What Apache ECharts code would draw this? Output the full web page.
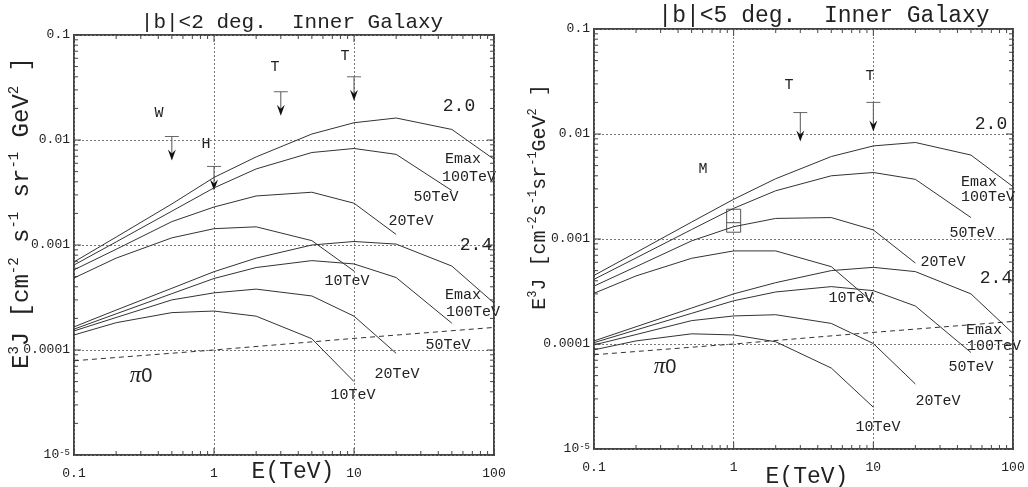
<!DOCTYPE html>
<html>
<head>
<meta charset="utf-8">
<script src="https://cdn.jsdelivr.net/npm/echarts@6/dist/echarts.min.js"></script>
<style>
  html, body { margin: 0; padding: 0; background: #fff; }
  #chart { width: 1028px; height: 487px; }
</style>
</head>
<body>
<div id="chart"></div>
<script>
// energies (TeV) where the model curves were computed
var energies = [0.1, 0.2, 0.5, 1, 2, 5, 10, 20, 50, 100];

// |b|<2 deg, index 2.0
var left20_100 = [6.9e-4, 1.19e-3, 2.46e-3, 4.4e-3, 6.9e-3, 0.0114, 0.0146, 0.0162, 0.0126, 0.00655];
var left20_50 = [6.45e-4, 1.07e-3, 2.1e-3, 3.5e-3, 5.3e-3, 7.6e-3, 8.3e-3, 7.3e-3, 3.3e-3];
var left20_20 = [5.8e-4, 9.1e-4, 1.67e-3, 2.3e-3, 2.93e-3, 3.18e-3, 2.5e-3, 1.26e-3];
var left20_10 = [4.85e-4, 7.5e-4, 1.17e-3, 1.43e-3, 1.49e-3, 1.1e-3, 5.65e-4];
// |b|<2 deg, index 2.4
var left24_100 = [1.66e-4, 2.4e-4, 3.87e-4, 5.57e-4, 7.5e-4, 1.0e-3, 1.08e-3, 1.02e-3, 6.3e-4, 2.8e-4];
var left24_50 = [1.58e-4, 2.21e-4, 3.44e-4, 4.8e-4, 6.1e-4, 7.1e-4, 6.6e-4, 4.9e-4, 1.8e-4];
var left24_20 = [1.52e-4, 2.04e-4, 3.0e-4, 3.5e-4, 3.8e-4, 3.27e-4, 2.1e-4, 9.3e-5];
var left24_10 = [1.39e-4, 1.82e-4, 2.27e-4, 2.35e-4, 2.1e-4, 1.28e-4, 5.0e-5];

// |b|<5 deg, index 2.0
var right20_100 = [4.5e-4, 7.43e-4, 1.45e-3, 2.39e-3, 3.75e-3, 6.1e-3, 7.7e-3, 8.3e-3, 6.3e-3, 3.15e-3];
var right20_50 = [4.13e-4, 6.6e-4, 1.23e-3, 1.96e-3, 2.88e-3, 4.0e-3, 4.3e-3, 3.7e-3, 1.6e-3];
var right20_20 = [3.56e-4, 5.45e-4, 9.6e-4, 1.31e-3, 1.57e-3, 1.6e-3, 1.22e-3, 5.9e-4];
var right20_10 = [3.04e-4, 4.45e-4, 6.55e-4, 7.7e-4, 7.7e-4, 5.45e-4, 2.47e-4];
// |b|<5 deg, index 2.4
var right24_100 = [1.07e-4, 1.46e-4, 2.2e-4, 3.0e-4, 3.84e-4, 5.0e-4, 5.37e-4, 4.89e-4, 3.0e-4, 1.26e-4];
var right24_50 = [1.03e-4, 1.36e-4, 1.96e-4, 2.58e-4, 3.13e-4, 3.52e-4, 3.22e-4, 2.3e-4, 8.3e-5];
var right24_20 = [9.8e-5, 1.23e-4, 1.67e-4, 1.85e-4, 1.9e-4, 1.57e-4, 1.01e-4, 4.16e-5];
var right24_10 = [8.8e-5, 1.07e-4, 1.25e-4, 1.22e-4, 1.05e-4, 5.9e-5, 2.5e-5];

// pi0 decay component (same in both panels)
var pi0Energies = [0.1, 1, 10, 100];
var pi0Flux = [7.9e-5, 1.0e-4, 1.29e-4, 1.64e-4];

// upper limits [E, flux]
var leftLimits = [[0.5, 0.0108], [1, 0.0056], [3, 0.0288], [10, 0.040]];
var rightLimits = [[3, 0.016], [10, 0.020]];
// box measurement [E, low, mid, high]
var rightBox = [[1, 1.16e-3, 1.43e-3, 1.92e-3]];

var xTickValues = [0.1, 0.2, 0.3, 0.4, 0.5, 0.6, 0.7, 0.8, 0.9, 1, 2, 3, 4, 5, 6, 7, 8, 9, 10,
  20, 30, 40, 50, 60, 70, 80, 90, 100];
var yTickValues = [];
[1e-5, 1e-4, 1e-3, 1e-2].forEach(function (d) {
  for (var k = 1; k <= 9; k++) yTickValues.push(d * k);
});
yTickValues.push(0.1);

var mono = "'Liberation Mono', 'DejaVu Sans Mono', monospace";
var ink = '#333';

function pairs(ys) {
  return ys.map(function (v, i) { return [energies[i], v]; });
}

function curve(gi, ys) {
  return {
    type: 'line', xAxisIndex: gi, yAxisIndex: gi, data: pairs(ys),
    symbol: 'none', silent: true, animation: false,
    lineStyle: {color: ink, width: 1}
  };
}

function pi0Line(gi) {
  return {
    type: 'line', xAxisIndex: gi, yAxisIndex: gi, symbol: 'none', silent: true, animation: false,
    data: pi0Energies.map(function (e, i) { return [e, pi0Flux[i]]; }),
    lineStyle: {color: ink, width: 1, type: [5, 4]}
  };
}

function isMajor(v) {
  var l = Math.log10(v);
  return Math.abs(l - Math.round(l)) < 1e-6;
}

// inward ticks on all four sides of a panel
function ticksSeries(gi) {
  return {
    type: 'custom', xAxisIndex: gi, yAxisIndex: gi, silent: true, animation: false, clip: false,
    data: [[1, 1e-3]],
    renderItem: function (params, api) {
      var lb = api.coord([0.1, 1e-5]);
      var rt = api.coord([100, 0.1]);
      var kids = [];
      xTickValues.forEach(function (v) {
        var x = api.coord([v, 1e-3])[0];
        var len = isMajor(v) ? 7 : 4;
        kids.push({type: 'line', shape: {x1: x, y1: lb[1], x2: x, y2: lb[1] - len}, style: {stroke: '#444', lineWidth: 1}});
        kids.push({type: 'line', shape: {x1: x, y1: rt[1], x2: x, y2: rt[1] + len}, style: {stroke: '#444', lineWidth: 1}});
      });
      yTickValues.forEach(function (v) {
        var y = api.coord([1, v])[1];
        var len = isMajor(v) ? 7 : 4;
        kids.push({type: 'line', shape: {x1: lb[0], y1: y, x2: lb[0] + len, y2: y}, style: {stroke: '#444', lineWidth: 1}});
        kids.push({type: 'line', shape: {x1: rt[0], y1: y, x2: rt[0] - len, y2: y}, style: {stroke: '#444', lineWidth: 1}});
      });
      return {type: 'group', children: kids};
    }
  };
}

function limitSeries(gi, data, len) {
  return {
    type: 'custom', xAxisIndex: gi, yAxisIndex: gi, silent: true, animation: false, clip: false,
    data: data,
    renderItem: function (params, api) {
      var p = api.coord([api.value(0), api.value(1)]);
      var x = p[0], y = p[1], tip = y + len;
      return {
        type: 'group', children: [
          {type: 'line', shape: {x1: x - 7, y1: y, x2: x + 7, y2: y}, style: {stroke: '#666', lineWidth: 1}},
          {type: 'line', shape: {x1: x, y1: y, x2: x, y2: tip - 6}, style: {stroke: '#555', lineWidth: 1}},
          {type: 'polygon', shape: {points: [[x - 4, tip - 11], [x, tip - 7], [x + 4, tip - 11], [x, tip]]}, style: {fill: '#111'}}
        ]
      };
    }
  };
}

function boxSeries(gi, data) {
  return {
    type: 'custom', xAxisIndex: gi, yAxisIndex: gi, silent: true, animation: false,
    data: data,
    renderItem: function (params, api) {
      var lo = api.coord([api.value(0), api.value(1)]);
      var mid = api.coord([api.value(0), api.value(2)]);
      var hi = api.coord([api.value(0), api.value(3)]);
      return {
        type: 'group', children: [
          {type: 'rect', shape: {x: lo[0] - 7, y: hi[1], width: 14, height: lo[1] - hi[1]}, style: {fill: 'none', stroke: '#555', lineWidth: 1}},
          {type: 'line', shape: {x1: lo[0] - 7, y1: mid[1], x2: lo[0] + 7, y2: mid[1]}, style: {stroke: '#555', lineWidth: 1}}
        ]
      };
    }
  };
}

function xLabel(v) {
  var l = Math.round(Math.log10(v));
  return ['0.1', '1', '10', '100'][l + 1] || '';
}
function yLabel(v) {
  var l = Math.round(Math.log10(v));
  if (l === -5) return '{b|10}{s|-5}';
  return ({'-1': '0.1', '-2': '0.01', '-3': '0.001', '-4': '0.0001'})[l] || '';
}

function xAxisFor(gi, margin) {
  return {
    type: 'log', gridIndex: gi, logBase: 10, min: 0.1, max: 100,
    axisLine: {show: false}, axisTick: {show: false},
    splitLine: {show: true, lineStyle: {color: '#777', width: 1, type: [2, 2]}},
    axisLabel: {margin: margin, fontFamily: mono, fontSize: 13, color: '#222', formatter: xLabel}
  };
}
function yAxisFor(gi, margin) {
  return {
    type: 'log', gridIndex: gi, logBase: 10, min: 1e-5, max: 0.1,
    axisLine: {show: false}, axisTick: {show: false},
    splitLine: {show: true, lineStyle: {color: '#777', width: 1, type: [2, 2]}},
    axisLabel: {
      margin: margin, fontFamily: mono, fontSize: 13, color: '#222', formatter: yLabel,
      rich: {
        b: {fontFamily: mono, fontSize: 13, color: '#222'},
        s: {fontFamily: mono, fontSize: 9, verticalAlign: 'top', color: '#222'}
      }
    }
  };
}

function txt(s, x, y, size, extra) {
  var o = {
    type: 'text', x: x, y: y, silent: true,
    style: {
      text: s, fill: '#222', font: size + 'px ' + mono,
      textAlign: 'center', textVerticalAlign: 'middle', align: 'center', verticalAlign: 'middle'
    }
  };
  if (extra) {
    for (var k in extra) o.style[k] = extra[k];
  }
  return o;
}

function pi0Text(x, y) {
  return txt('{p|π}{z|0}', x, y, 20, {
    rich: {
      p: {fontFamily: "'Liberation Serif', serif", fontStyle: 'italic', fontSize: 23, fill: '#222'},
      z: {fontFamily: "'Liberation Sans', sans-serif", fontSize: 20, fill: '#222'}
    }
  });
}

function yTitle(x, y, size, spaced) {
  var sp = spaced ? ' ' : '';
  var s = '{n|E}{s|3}{n|J [cm}{s|-2}{n|' + sp + 's}{s|-1}{n|' + sp + 'sr}{s|-1}{n|' + sp + 'GeV}{s|2}{n| ]}';
  var o = txt(s, x, y, size, {
    rich: {
      n: {fontFamily: mono, fontSize: size, lineHeight: size + 6, fill: '#222'},
      s: {fontFamily: mono, fontSize: Math.round(size * 0.6), verticalAlign: 'top', fill: '#222'}
    }
  });
  o.rotation = Math.PI / 2;
  return o;
}

var graphics = [
  // titles
  txt('|b|<2 deg.  Inner Galaxy', 292, 22, 21),
  txt('|b|<5 deg.  Inner Galaxy', 824, 16, 23),
  // axis titles
  txt('E(TeV)', 293, 472, 23),
  txt('E(TeV)', 807, 477, 23),
  yTitle(22, 213, 24, true),
  yTitle(540, 197, 20, false),
  // left panel annotations
  txt('W', 159, 113, 15), txt('H', 206, 144, 15), txt('T', 275, 67, 15), txt('T', 345, 56, 15),
  txt('2.0', 459, 106, 18), txt('Emax', 463, 159, 15), txt('100TeV', 469, 177, 15),
  txt('50TeV', 436, 197, 15), txt('20TeV', 411, 221, 15), txt('2.4', 476, 245, 18),
  txt('10TeV', 347, 281, 15), txt('Emax', 463, 295, 15), txt('100TeV', 473, 312, 15),
  txt('50TeV', 448, 345, 15), txt('20TeV', 397, 374, 15), txt('10TeV', 353, 395, 15),
  pi0Text(141, 376),
  // right panel annotations
  txt('M', 703, 169, 15), txt('T', 789, 85, 15), txt('T', 870, 76, 15),
  txt('2.0', 991, 124, 18), txt('Emax', 979, 182, 15), txt('100TeV', 988, 197, 15),
  txt('50TeV', 972, 233, 15), txt('20TeV', 943, 262, 15), txt('2.4', 996, 278, 18),
  txt('10TeV', 851, 298, 15), txt('Emax', 984, 330, 15), txt('100TeV', 994, 346, 15),
  txt('50TeV', 971, 367, 15), txt('20TeV', 938, 401, 15), txt('10TeV', 878, 427, 15),
  pi0Text(665, 367)
];

var series = [];
[left20_100, left20_50, left20_20, left20_10, left24_100, left24_50, left24_20, left24_10].forEach(function (ys) {
  series.push(curve(0, ys));
});
[right20_100, right20_50, right20_20, right20_10, right24_100, right24_50, right24_20, right24_10].forEach(function (ys) {
  series.push(curve(1, ys));
});
series.push(pi0Line(0), pi0Line(1));
series.push(ticksSeries(0), ticksSeries(1));
series.push(limitSeries(0, leftLimits, 24), limitSeries(1, rightLimits, 29));
series.push(boxSeries(1, rightBox));

var chart = echarts.init(document.getElementById('chart'), null, {renderer: 'canvas'});
chart.setOption({
  backgroundColor: '#fff',
  animation: false,
  grid: [
    {left: 74, top: 35, width: 420, height: 420, show: true, borderColor: '#444', borderWidth: 2, backgroundColor: 'transparent'},
    {left: 594, top: 29, width: 419, height: 420, show: true, borderColor: '#444', borderWidth: 2, backgroundColor: 'transparent'}
  ],
  xAxis: [xAxisFor(0, 12), xAxisFor(1, 12)],
  yAxis: [yAxisFor(0, 4), yAxisFor(1, 4)],
  graphic: graphics,
  series: series
});
</script>
</body>
</html>
